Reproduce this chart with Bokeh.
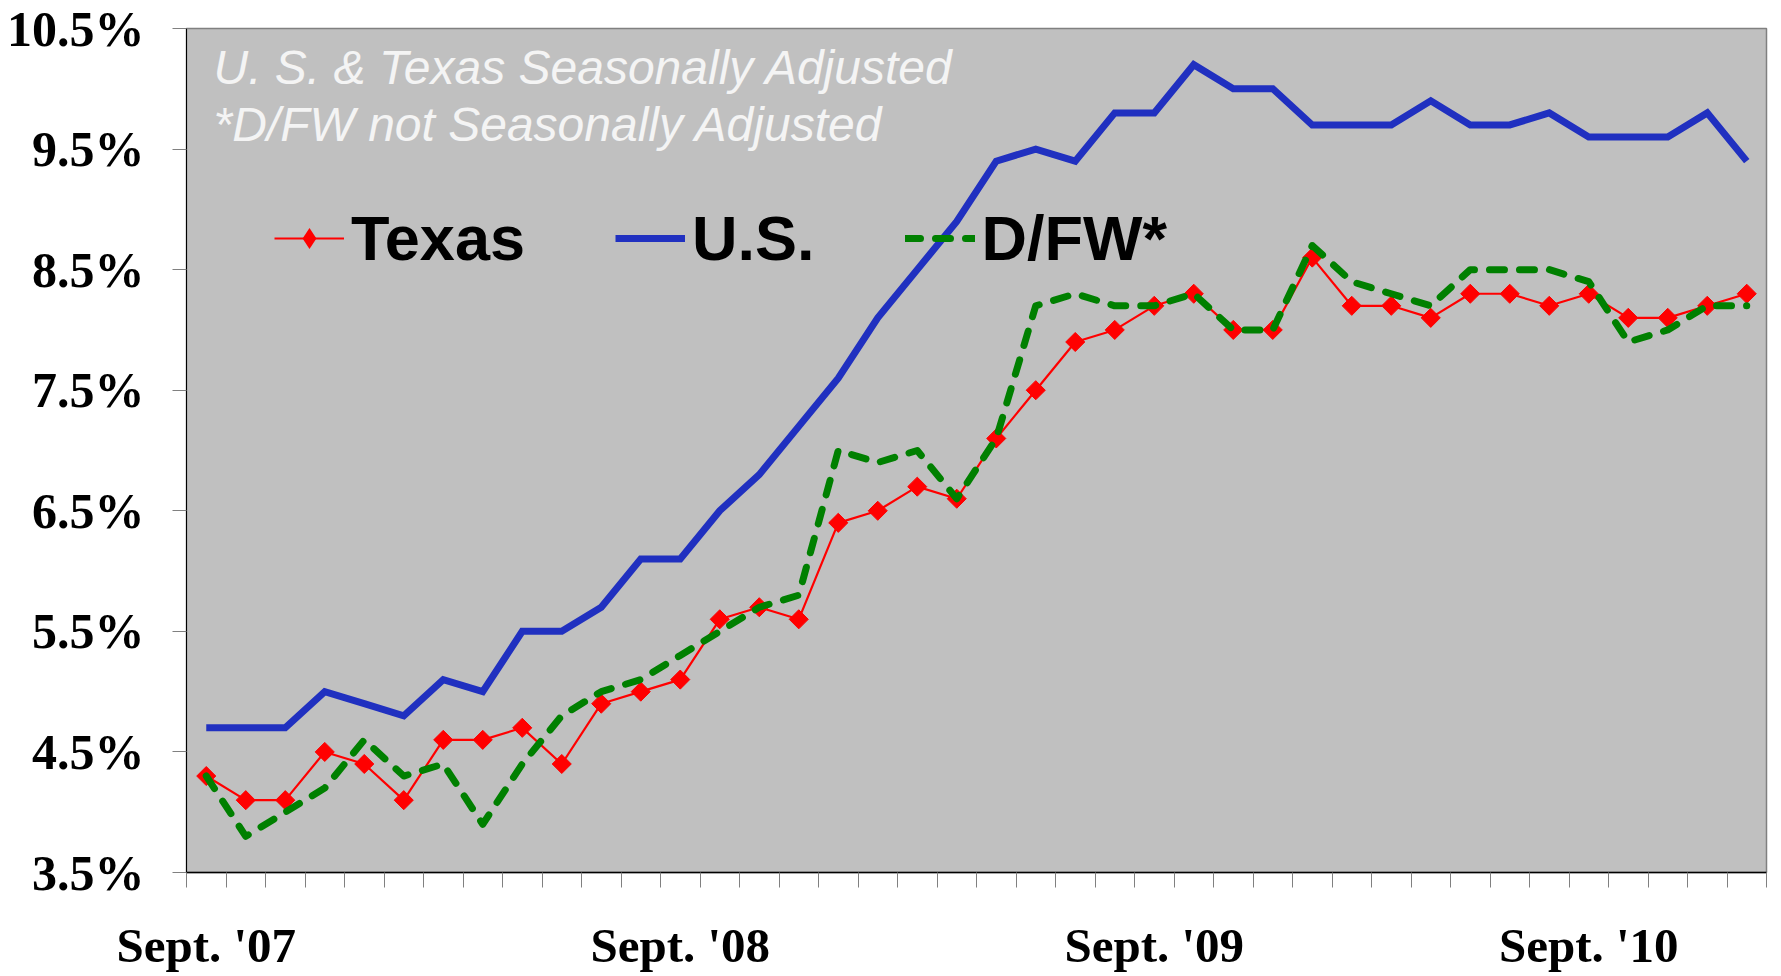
import math
from bokeh.plotting import figure
from bokeh.models import (FixedTicker, PrintfTickFormatter, Label, Legend, LegendItem,
                          Range1d, ColumnDataSource)
from bokeh.embed import file_html
from bokeh.resources import INLINE

# ---------------- data ----------------
months = ["Sep 07", "Oct 07", "Nov 07", "Dec 07",
          "Jan 08", "Feb 08", "Mar 08", "Apr 08", "May 08", "Jun 08",
          "Jul 08", "Aug 08", "Sep 08", "Oct 08", "Nov 08", "Dec 08",
          "Jan 09", "Feb 09", "Mar 09", "Apr 09", "May 09", "Jun 09",
          "Jul 09", "Aug 09", "Sep 09", "Oct 09", "Nov 09", "Dec 09",
          "Jan 10", "Feb 10", "Mar 10", "Apr 10", "May 10", "Jun 10",
          "Jul 10", "Aug 10", "Sep 10", "Oct 10", "Nov 10", "Dec 10"]

texas = [4.3, 4.1, 4.1, 4.5, 4.4, 4.1, 4.6, 4.6, 4.7, 4.4,
         4.9, 5.0, 5.1, 5.6, 5.7, 5.6, 6.4, 6.5, 6.7, 6.6,
         7.1, 7.5, 7.9, 8.0, 8.2, 8.3, 8.0, 8.0, 8.6, 8.2,
         8.2, 8.1, 8.3, 8.3, 8.2, 8.3, 8.1, 8.1, 8.2, 8.3]

us = [4.7, 4.7, 4.7, 5.0, 4.9, 4.8, 5.1, 5.0, 5.5, 5.5,
      5.7, 6.1, 6.1, 6.5, 6.8, 7.2, 7.6, 8.1, 8.5, 8.9,
      9.4, 9.5, 9.4, 9.8, 9.8, 10.2, 10.0, 10.0, 9.7, 9.7,
      9.7, 9.9, 9.7, 9.7, 9.8, 9.6, 9.6, 9.6, 9.8, 9.4]

dfw = [4.3, 3.8, 4.0, 4.2, 4.6, 4.3, 4.4, 3.9, 4.4, 4.8,
       5.0, 5.1, 5.3, 5.5, 5.7, 5.8, 7.0, 6.9, 7.0, 6.6,
       7.1, 8.2, 8.3, 8.2, 8.2, 8.3, 8.0, 8.0, 8.7, 8.4,
       8.3, 8.2, 8.5, 8.5, 8.5, 8.4, 7.9, 8.0, 8.2, 8.2]

x_tick_labels = ["Sept. '07", "Sept. '08", "Sept. '09", "Sept. '10"]
x_tick_months = ["Sep 07", "Sep 08", "Sep 09", "Aug 10"]
y_ticks = [3.5, 4.5, 5.5, 6.5, 7.5, 8.5, 9.5, 10.5]

note_lines = ["U. S. & Texas Seasonally Adjusted", "*D/FW not Seasonally Adjusted"]

# ---------------- figure ----------------
xs = list(range(len(months)))
src = ColumnDataSource(dict(x=xs, texas=texas, us=us, dfw=dfw))

p = figure(width=1779, height=975,
           x_range=Range1d(-0.5, len(months) - 0.5),
           y_range=Range1d(y_ticks[0], y_ticks[-1]),
           output_backend="svg", toolbar_location=None,
           background_fill_color="#C0C0C0", border_fill_color="white",
           min_border_left=186, min_border_right=13, min_border_top=28,
           min_border_bottom=98,
           outline_line_color="#808080", outline_line_width=1.5)
p.xgrid.visible = False
p.ygrid.visible = False

r_tx_line = p.line("x", "texas", source=src, line_color="#FF0000", line_width=2.2,
                   line_join="round")
r_tx_pts = p.scatter("x", "texas", source=src, marker="square", size=13.5,
                     angle=math.pi / 4, fill_color="#FF0000", line_color="#FF0000")
# key glyph for the legend only (zero size in the plot area)
r_tx_key = p.scatter("x", "texas", source=src, marker="diamond", size=0,
                     fill_color="#FF0000", line_color=None)
r_us = p.line("x", "us", source=src, line_color="#2030C0", line_width=7,
              line_join="miter")
r_dfw = p.line("x", "dfw", source=src, line_color="#008000", line_width=7,
               line_dash="15 15", line_cap="round", line_join="round")

# ---------------- axes ----------------
pos = [months.index(m) for m in x_tick_months]
boundaries = [i - 0.5 for i in range(len(months) + 1)]
xa = p.xaxis[0]
xa.ticker = FixedTicker(ticks=pos, minor_ticks=boundaries)
xa.major_label_overrides = {k: lab for k, lab in zip(pos, x_tick_labels)}
xa.major_tick_out = 0
xa.major_tick_in = 0
xa.minor_tick_out = 15
xa.minor_tick_in = 0
xa.minor_tick_line_color = "#808080"
xa.axis_line_color = "black"
xa.axis_line_width = 1.5
xa.major_label_standoff = 30
xa.major_label_text_font = "Liberation Serif"
xa.major_label_text_font_style = "bold"
xa.major_label_text_font_size = "49px"
xa.major_label_text_color = "black"

ya = p.yaxis[0]
ya.ticker = FixedTicker(ticks=y_ticks)
ya.formatter = PrintfTickFormatter(format="%.1f%%")
ya.major_tick_out = 14
ya.major_tick_in = 0
ya.major_tick_line_color = "#808080"
ya.minor_tick_out = 0
ya.minor_tick_in = 0
ya.axis_line_color = "black"
ya.axis_line_width = 1
ya.major_label_standoff = 28
ya.major_label_text_font = "Liberation Serif"
ya.major_label_text_font_style = "bold"
ya.major_label_text_font_size = "50px"
ya.major_label_text_color = "black"

# ---------------- notes ----------------
note_y = [10.18, 9.70]
for t, yy in zip(note_lines, note_y):
    p.add_layout(Label(x=27, y=yy, x_units="screen", y_units="data",
                       text=t, text_font="Liberation Sans", text_font_style="italic",
                       text_font_size="48px", text_color="#F4F4F4",
                       text_baseline="alphabetic"))

# ---------------- legend ----------------
legend = Legend(items=[LegendItem(label="Texas", renderers=[r_tx_line, r_tx_key]),
                       LegendItem(label="U.S.", renderers=[r_us]),
                       LegendItem(label="D/FW*", renderers=[r_dfw])],
                orientation="horizontal", location=(88, 598),
                background_fill_alpha=0, border_line_alpha=0,
                label_text_font="Liberation Sans", label_text_font_style="bold",
                label_text_font_size="63px", label_text_color="black",
                glyph_width=70, glyph_height=52, label_standoff=7, spacing=90,
                padding=0, margin=0)
p.add_layout(legend)

open("out.html", "w").write(file_html(p, INLINE))
